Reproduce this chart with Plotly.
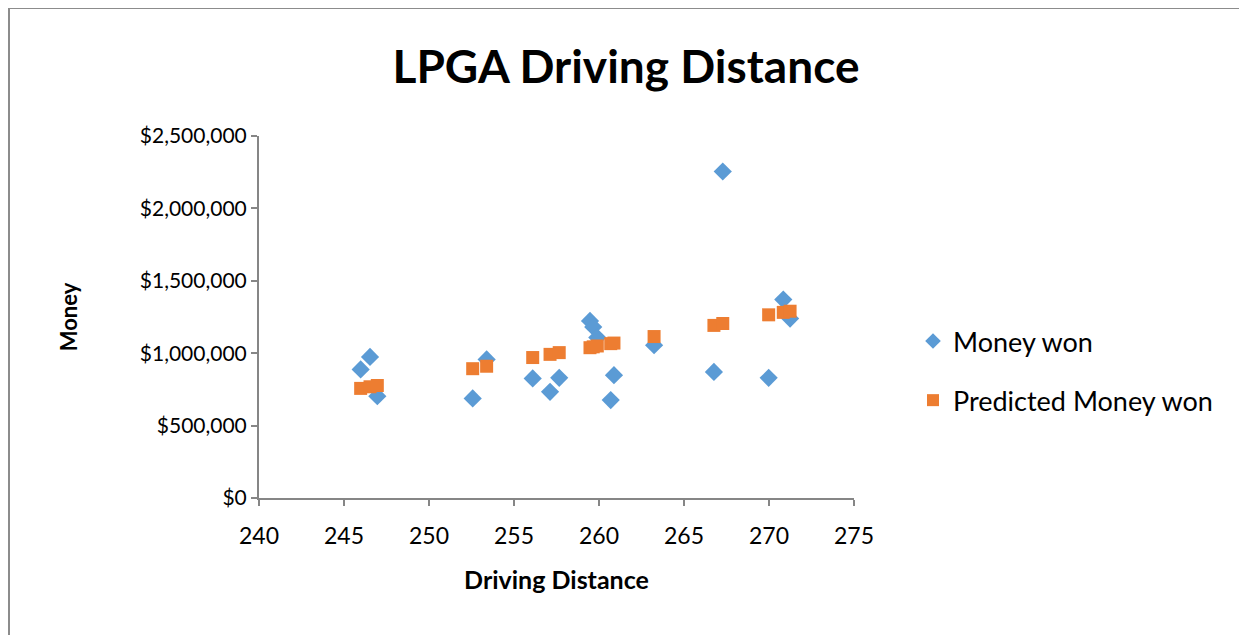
import plotly.graph_objects as go

# Data
driving_distance = [245.98, 246.53, 246.96, 252.57, 253.39, 256.10, 257.12, 257.66,
                    259.47, 259.66, 259.90, 260.69, 260.88, 263.24, 266.76, 267.28,
                    269.98, 270.84, 271.24]
money_won = [888000, 974000, 703000, 688000, 957000, 826000, 733000, 830000,
             1223000, 1181000, 1108000, 676000, 848000, 1055000, 871000, 2255000,
             830000, 1370000, 1239000]
predicted_money_won = [757000, 768000, 777000, 893000, 910000, 970000, 992000, 1004000,
                       1038000, 1044000, 1050000, 1066000, 1070000, 1115000, 1192000, 1205000,
                       1265000, 1282000, 1290000]

x_ticks = [240, 245, 250, 255, 260, 265, 270, 275]
y_ticks = [0, 500000, 1000000, 1500000, 2000000, 2500000]
y_tick_labels = ["${:,.0f}".format(v) for v in y_ticks]

FONT = "Lato, Calibri, Carlito, sans-serif"
AXIS_COLOR = "#868686"

OFF = 8  # browser default body margin
W, H = 1247 - OFF, 635 - OFF
PL, PR, PT, PB = 259, 854, 136, 498  # plot area in page pixels
PW, PH = PR - PL, PB - PT


def px(xp):
    return (xp - PL) / PW


def py(yp):
    return 1 - (yp - PT) / PH


fig = go.Figure()
fig.add_trace(go.Scatter(
    x=driving_distance, y=money_won, mode="markers", name="Money won",
    legendgroup="a",
    marker=dict(symbol="diamond", size=14, color="#5B9BD5"),
))
fig.add_trace(go.Scatter(
    x=driving_distance, y=predicted_money_won, mode="markers", name="Predicted Money won",
    legendgroup="b",
    marker=dict(symbol="square", size=13, color="#ED7D31"),
))

shapes = [
    dict(type="line", xref="paper", yref="paper", x0=px(9), x1=px(1260),
         y0=py(8), y1=py(8), line=dict(color="#8c8c8c", width=2)),
    dict(type="line", xref="paper", yref="paper", x0=px(9), x1=px(9),
         y0=py(8), y1=py(640), line=dict(color="#8c8c8c", width=2)),
]

fig.update_layout(
    width=W, height=H,
    margin=dict(l=PL - OFF, r=W - (PR - OFF), t=PT - OFF, b=H - (PB - OFF)),
    paper_bgcolor="white", plot_bgcolor="white",
    font=dict(family=FONT, size=21, color="#000000"),
    title=dict(text="<b>LPGA Driving Distance</b>", x=((390 + 862) / 2 - OFF) / W, xanchor="center",
               y=1 - (67 - OFF) / H, yanchor="middle",
               font=dict(family=FONT, size=46, color="#000000")),
    xaxis=dict(range=[240, 275], tickvals=x_ticks, ticktext=[str(v) for v in x_ticks],
               showgrid=False, zeroline=False, showline=True, linecolor=AXIS_COLOR, linewidth=2,
               ticks="outside", ticklen=6, tickcolor=AXIS_COLOR, tickwidth=2,
               ticklabelstandoff=10,
               tickfont=dict(family=FONT, size=23),
               title=dict(text="<b>Driving Distance</b>", font=dict(family=FONT, size=25), standoff=24)),
    yaxis=dict(range=[0, 2500000], tickvals=y_ticks, ticktext=y_tick_labels,
               showgrid=False, zeroline=False, showline=True, linecolor=AXIS_COLOR, linewidth=2,
               ticks="outside", ticklen=6, tickcolor=AXIS_COLOR, tickwidth=2,
               tickfont=dict(family=FONT, size=21),
               title=dict(text="<b>Money</b>", font=dict(family=FONT, size=22), standoff=56)),
    legend=dict(x=(913 - OFF) / W, xanchor="left", xref="container",
                y=1 - (317 - OFF) / H, yanchor="top", yref="container",
                font=dict(family=FONT, size=27), itemsizing="constant", tracegroupgap=21,
                bgcolor="rgba(0,0,0,0)"),
    shapes=shapes,
)

fig.write_html("out.html")
